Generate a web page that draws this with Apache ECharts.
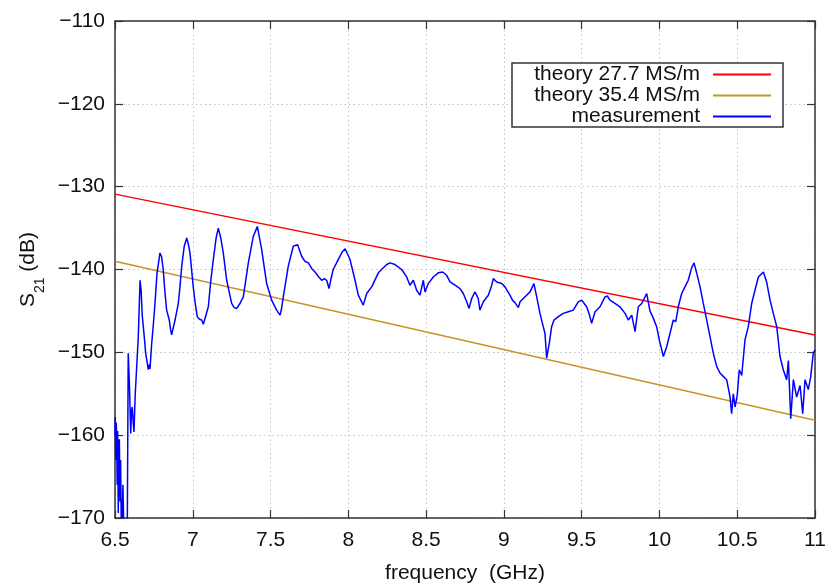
<!DOCTYPE html>
<html>
<head>
<meta charset="utf-8">
<script src="https://cdn.jsdelivr.net/npm/echarts@6/dist/echarts.min.js"></script>
<style>
html,body{margin:0;padding:0;background:#fff;}
#c{width:829px;height:583px;}
</style>
</head>
<body>
<div id="c"></div>
<script>
// ---- data ----
var xTicks = [6.5, 11, 0.5];          // min, max, step (GHz)
var yTicks = [-170, -110, 10];        // min, max, step (dB)
var seriesNames = ['theory 27.7 MS/m', 'theory 35.4 MS/m', 'measurement'];
var theory277 = [[6.5, -130.9], [11.0, -147.9]];
var theory354 = [[6.5, -139.0], [11.0, -158.2]];
var measurement = [
[6.500,-160],[6.502,-157.8],[6.505,-163],[6.508,-158.5],[6.511,-160.2],[6.514,-166],
[6.517,-159.5],[6.521,-169.4],[6.524,-161],[6.528,-160.5],[6.532,-168],[6.536,-163],
[6.540,-170],[6.543,-167.8],[6.547,-170],[6.551,-166],[6.555,-170],[6.560,-171],
[6.579,-171],[6.585,-150.1],[6.593,-154],[6.601,-159.8],[6.606,-157],[6.611,-156.6],
[6.617,-158.5],[6.622,-159.6],[6.630,-155.1],[6.639,-155.0],[6.650,-148],[6.661,-141.3],
[6.668,-142.5],[6.675,-145.5],[6.682,-146.9],[6.690,-148.5],[6.697,-150.1],[6.705,-151],
[6.714,-152.1],[6.720,-151.5],[6.725,-152.0],[6.736,-148.9],[6.745,-147],[6.757,-144.1],
[6.770,-140.5],[6.789,-138.0],[6.800,-138.5],[6.810,-140.0],[6.820,-142.5],[6.832,-144.9],
[6.849,-146.1],[6.857,-147.2],[6.864,-147.9],[6.875,-147],[6.886,-146.1],[6.907,-144.1],
[6.918,-142],[6.929,-139.6],[6.945,-137.2],[6.961,-136.2],[6.970,-136.8],[6.982,-138.0],
[7.003,-142.1],[7.015,-144],[7.029,-145.7],[7.043,-146.0],[7.057,-146.1],[7.068,-146.6],
[7.079,-146.5],[7.100,-144.5],[7.115,-141.5],[7.132,-138.8],[7.150,-136.2],[7.164,-135.0],
[7.180,-136.2],[7.196,-138.0],[7.218,-141.3],[7.250,-144.1],[7.266,-144.6],[7.282,-144.7],
[7.300,-144.2],[7.325,-143.3],[7.357,-139.2],[7.389,-136.0],[7.415,-134.8],[7.443,-137.6],
[7.475,-141.7],[7.507,-143.7],[7.539,-144.9],[7.561,-145.5],[7.570,-144.8],[7.582,-143.3],
[7.614,-139.6],[7.646,-137.2],[7.674,-137.0],[7.700,-138.4],[7.720,-139.0],[7.743,-139.2],
[7.765,-139.9],[7.786,-140.3],[7.810,-140.9],[7.829,-141.3],[7.845,-141.1],[7.861,-141.3],
[7.876,-142.3],[7.890,-141.0],[7.903,-140.0],[7.935,-138.8],[7.960,-137.9],[7.979,-137.5],
[8.011,-138.8],[8.043,-141.3],[8.064,-143.1],[8.080,-143.7],[8.096,-144.3],[8.118,-142.9],
[8.150,-142.1],[8.193,-140.4],[8.214,-140.0],[8.247,-139.4],[8.268,-139.2],[8.300,-139.4],
[8.343,-140.0],[8.375,-140.9],[8.396,-141.9],[8.418,-141.3],[8.439,-142.5],[8.461,-143.1],
[8.482,-141.3],[8.493,-142.7],[8.514,-141.7],[8.546,-140.9],[8.578,-140.4],[8.607,-140.3],
[8.632,-140.7],[8.654,-141.5],[8.686,-141.9],[8.718,-142.3],[8.739,-142.9],[8.761,-143.9],
[8.776,-144.7],[8.793,-143.5],[8.814,-142.7],[8.835,-143.5],[8.846,-144.9],[8.868,-143.9],
[8.900,-143.1],[8.922,-141.9],[8.932,-141.1],[8.954,-141.5],[8.986,-141.7],[9.007,-142.1],
[9.039,-143.1],[9.055,-143.7],[9.071,-144.0],[9.093,-144.6],[9.104,-143.9],[9.136,-143.3],
[9.168,-142.7],[9.193,-141.7],[9.211,-143.3],[9.232,-145.3],[9.253,-146.9],[9.264,-147.7],
[9.275,-150.7],[9.292,-148.9],[9.307,-146.9],[9.322,-146.1],[9.350,-145.7],[9.382,-145.3],
[9.414,-145.1],[9.446,-144.9],[9.478,-143.9],[9.500,-143.7],[9.532,-144.5],[9.550,-145.5],
[9.564,-146.5],[9.586,-145.1],[9.618,-144.5],[9.650,-143.3],[9.665,-143.2],[9.682,-143.7],
[9.714,-144.1],[9.746,-144.5],[9.779,-145.3],[9.800,-146.1],[9.822,-145.5],[9.843,-147.5],
[9.864,-144.5],[9.886,-144.1],[9.918,-142.9],[9.939,-145.0],[9.961,-145.9],[9.982,-146.9],
[9.999,-148.5],[10.025,-150.5],[10.047,-149.3],[10.068,-147.7],[10.089,-146.1],[10.105,-146.3],
[10.121,-144.5],[10.143,-142.9],[10.164,-142.1],[10.185,-141.3],[10.207,-139.8],[10.222,-139.2],
[10.239,-140.4],[10.261,-142.1],[10.282,-144.1],[10.304,-146.1],[10.325,-148.1],[10.346,-150.1],
[10.368,-151.7],[10.389,-152.5],[10.410,-152.9],[10.432,-153.3],[10.454,-155.4],[10.464,-157.4],
[10.475,-155.0],[10.486,-156.6],[10.500,-155.2],[10.513,-152.1],[10.529,-152.8],[10.550,-148.5],
[10.571,-146.9],[10.593,-144.1],[10.614,-142.5],[10.636,-140.9],[10.668,-140.3],[10.689,-141.5],
[10.711,-143.7],[10.732,-145.3],[10.754,-146.9],[10.775,-150.5],[10.796,-152.1],[10.818,-153.3],
[10.829,-151.0],[10.844,-158.0],[10.861,-153.3],[10.882,-155.4],[10.904,-154.0],[10.921,-157.4],
[10.936,-153.3],[10.957,-154.5],[10.972,-153.0],[10.989,-150.1],[11.000,-149.7]
];
var colors = ['#ff0000', '#c8942a', '#0000ff'];

// ---- chart ----
var FONT = '"Liberation Sans", Arial, sans-serif';
var FS = 21;
var frame = '#333333';
var chart = echarts.init(document.getElementById('c'), null, {renderer: 'canvas'});
function minusFmt(v) { return v < 0 ? '\u2212' + Math.abs(v) : String(v); }
var gridLine = {show: true, lineStyle: {color: '#c4c4c4', width: 1, type: [1.5, 3]}};
var tick = {show: true, inside: true, length: 8, lineStyle: {color: frame, width: 1.2}};
var axLine = {show: true, onZero: false, lineStyle: {color: frame, width: 1.5}};

chart.setOption({
  animation: false,
  backgroundColor: '#fff',
  textStyle: {fontFamily: FONT},
  grid: {left: 115, right: 14, top: 21, bottom: 65, containLabel: false, outerBoundsMode: 'none'},
  legend: {
    data: seriesNames,
    orient: 'vertical',
    align: 'right',
    right: 46,
    top: 63,
    padding: [1, 12, 0, 12],
    itemGap: 0,
    itemWidth: 58,
    itemHeight: 2,
    icon: 'rect',
    borderColor: frame,
    borderWidth: 1.5,
    backgroundColor: '#fff',
    selectedMode: false,
    textStyle: {fontFamily: FONT, fontSize: FS, color: '#111', lineHeight: 21, width: 176, padding: [0, 8, 0, 0]}
  },
  xAxis: [{
    type: 'value', min: xTicks[0], max: xTicks[1], interval: xTicks[2],
    name: 'frequency  (GHz)', nameLocation: 'middle', nameGap: 45,
    nameTextStyle: {fontFamily: FONT, fontSize: FS, color: '#111'},
    axisLine: axLine, axisTick: tick, splitLine: gridLine,
    axisLabel: {fontFamily: FONT, fontSize: FS, color: '#111', margin: 12}
  }, {
    type: 'value', position: 'top', min: xTicks[0], max: xTicks[1], interval: xTicks[2],
    axisLine: axLine, axisTick: tick, splitLine: {show: false}, axisLabel: {show: false}
  }],
  yAxis: [{
    type: 'value', min: yTicks[0], max: yTicks[1], interval: yTicks[2],
    name: '{a|S}{b|21}{a| (dB)}', nameLocation: 'middle', nameGap: 70,
    nameTextStyle: {fontFamily: FONT, color: '#111',
      rich: {a: {fontFamily: FONT, fontSize: FS, color: '#111', lineHeight: 26},
             b: {fontFamily: FONT, fontSize: 14, color: '#111', verticalAlign: 'bottom', lineHeight: 26, padding: [0, 0, -6, 0]}}},
    axisLine: axLine, axisTick: tick, splitLine: gridLine,
    axisLabel: {fontFamily: FONT, fontSize: FS, color: '#111', margin: 10, formatter: minusFmt}
  }, {
    type: 'value', position: 'right', min: yTicks[0], max: yTicks[1], interval: yTicks[2],
    axisLine: axLine, axisTick: tick, splitLine: {show: false}, axisLabel: {show: false}
  }],
  series: [
    {name: seriesNames[0], type: 'line', data: theory277, showSymbol: false, symbol: 'none',
     lineStyle: {color: colors[0], width: 1.5}, itemStyle: {color: colors[0]}, z: 3},
    {name: seriesNames[1], type: 'line', data: theory354, showSymbol: false, symbol: 'none',
     lineStyle: {color: colors[1], width: 1.5}, itemStyle: {color: colors[1]}, z: 3},
    {name: seriesNames[2], type: 'line', data: measurement, showSymbol: false, symbol: 'none',
     lineStyle: {color: colors[2], width: 1.5}, itemStyle: {color: colors[2]}, z: 4}
  ]
});
</script>
</body>
</html>
